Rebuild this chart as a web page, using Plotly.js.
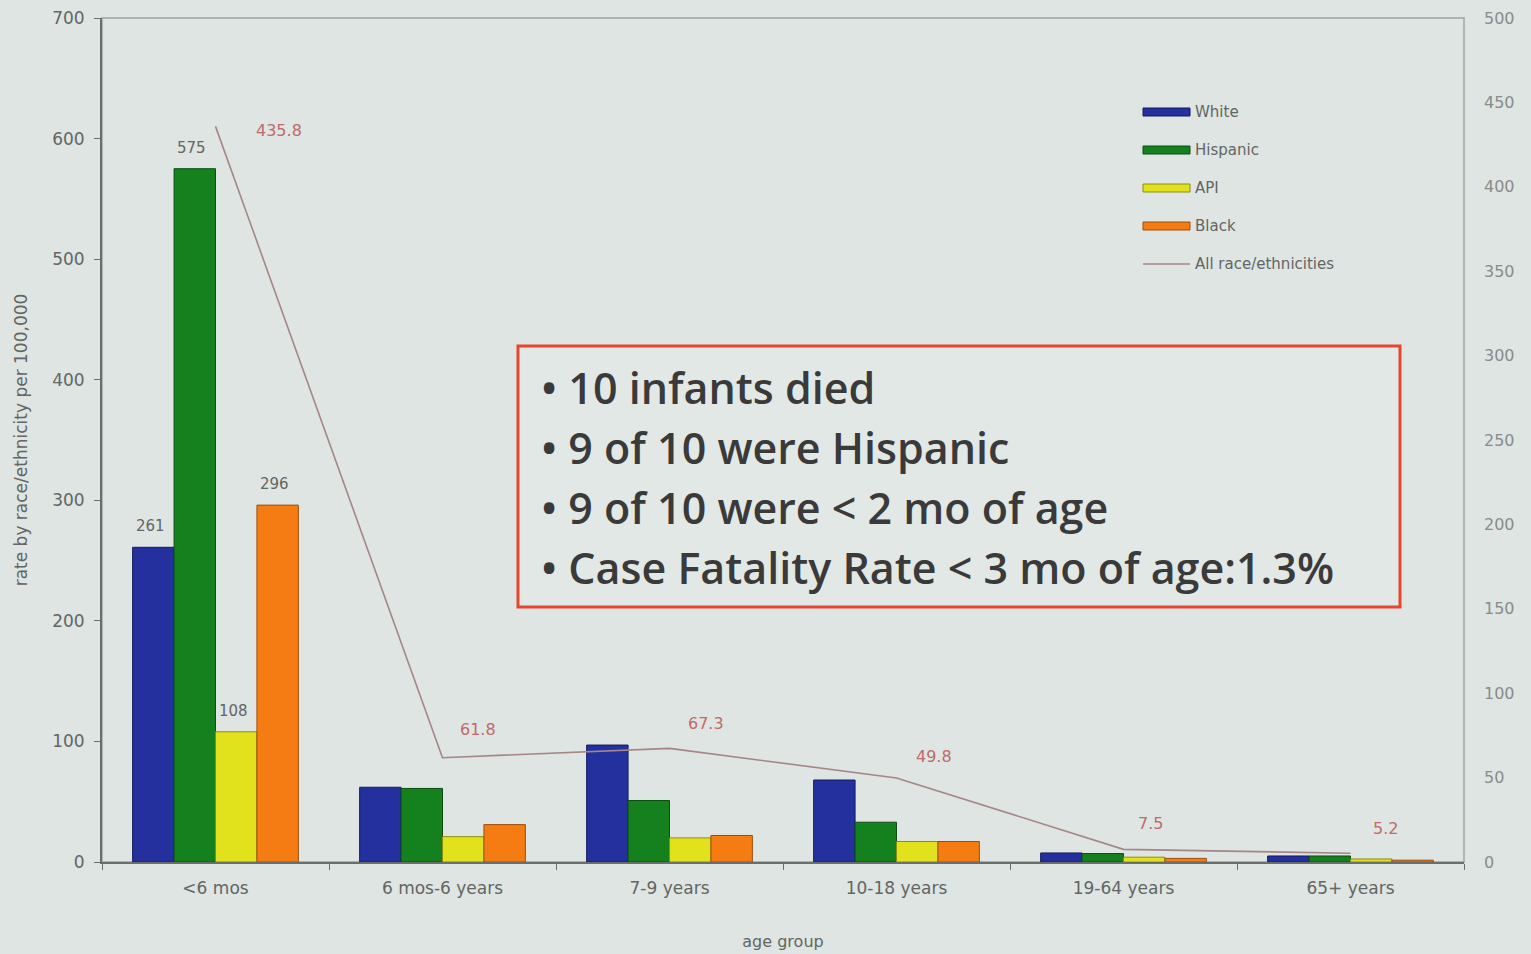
<!DOCTYPE html>
<html>
<head>
<meta charset="utf-8">
<script src="https://cdn.plot.ly/plotly-3.0.1.min.js"></script>
<style>
  html, body { margin: 0; padding: 0; background: #dee5e2; }
  #chart { width: 1531px; height: 954px; }
</style>
</head>
<body>
<div id="chart"></div>
<script>
// Pertussis rates by age group and race/ethnicity (per 100,000)
const ageGroups = ['<6 mos', '6 mos-6 years', '7-9 years', '10-18 years', '19-64 years', '65+ years'];
const white    = [261, 62, 97, 68, 7.5, 5];
const hispanic = [575, 61, 51, 33, 7, 5];
const api      = [108, 21, 20, 17, 4, 2.5];
const black    = [296, 31, 22, 17, 3, 1.5];
const allRaces = [435.8, 61.8, 67.3, 49.8, 7.5, 5.2];

const seriesNames = ['White', 'Hispanic', 'API', 'Black'];
const allRacesName = 'All race/ethnicities';
const labeledGroupIndex = 0;   // only the infant group carries bar value labels

const leftTicks  = [0, 100, 200, 300, 400, 500, 600, 700];
const rightTicks = [0, 50, 100, 150, 200, 250, 300, 350, 400, 450, 500];

const notes = [
  '10 infants died',
  '9 of 10 were Hispanic',
  '9 of 10 were < 2 mo of age',
  'Case Fatality Rate < 3 mo of age:1.3%'
];

// ---- styling ----
const W = 1531, H = 954;
const M = { l: 102, r: 67, t: 18, b: 92 };
const plotW = W - M.l - M.r, plotH = H - M.t - M.b;
const px = x => (x - M.l) / plotW;          // pixel -> paper x
const py = y => (H - M.b - y) / plotH;      // pixel -> paper y

const bg = '#dee5e2';
const sans = 'DejaVu Sans, Liberation Sans, Arial, sans-serif';
const barColors = ['#23309e', '#14801e', '#e2e21c', '#f47c12'];
const barEdges  = ['#141c60', '#0c4e12', '#8c8c10', '#9c4e0c'];
const lineColor = '#a48686';
const lineLabelColor = '#c06a6a';
const axisGray = '#6a6e6c';
const textGray = '#626664';
const bargap = 0.27;
const barPx = plotW / ageGroups.length * (1 - bargap) / seriesNames.length;

const seriesValues = [white, hispanic, api, black];

const traces = seriesValues.map((vals, i) => ({
  type: 'bar',
  name: seriesNames[i],
  x: ageGroups,
  y: vals,
  marker: { color: barColors[i], line: { color: barEdges[i], width: 1 } },
  hoverinfo: 'name+y',
  showlegend: false
}));

traces.push({
  type: 'scatter',
  mode: 'lines',
  name: allRacesName,
  x: ageGroups,
  y: allRaces,
  yaxis: 'y2',
  line: { color: lineColor, width: 1.6 },
  showlegend: false
});

const annotations = [];

// value labels above the infant bars
seriesValues.forEach((vals, i) => {
  annotations.push({
    x: ageGroups[labeledGroupIndex], y: vals[labeledGroupIndex],
    xref: 'x', yref: 'y',
    text: String(vals[labeledGroupIndex]),
    showarrow: false,
    xanchor: 'center', yanchor: 'bottom',
    xshift: (i - (seriesNames.length - 1) / 2) * barPx - 3,
    yshift: 10,
    font: { family: sans, size: 15, color: textGray }
  });
});

// value labels for the all race/ethnicities line
const lineLabelShift = [[63, -4], [35, 28], [36, 25], [37, 21], [27, 26], [35, 25]];
allRaces.forEach((v, i) => {
  annotations.push({
    x: ageGroups[i], y: v, xref: 'x', yref: 'y2',
    text: v.toFixed(1),
    showarrow: false,
    xanchor: 'center', yanchor: 'middle',
    xshift: lineLabelShift[i][0], yshift: lineLabelShift[i][1],
    font: { family: sans, size: 16, color: lineLabelColor }
  });
});

// legend drawn as swatches + labels
const shapes = [];
const legendNames = seriesNames.concat([allRacesName]);
const legendRows = [112, 150, 188, 226, 264];
legendNames.forEach((name, i) => {
  const yc = legendRows[i];
  if (i < seriesNames.length) {
    shapes.push({
      type: 'rect', xref: 'paper', yref: 'paper',
      x0: px(1143), x1: px(1190), y0: py(yc + 4), y1: py(yc - 4),
      fillcolor: barColors[i], line: { color: barEdges[i], width: 1 }
    });
  } else {
    shapes.push({
      type: 'line', xref: 'paper', yref: 'paper',
      x0: px(1143), x1: px(1190), y0: py(yc), y1: py(yc),
      line: { color: lineColor, width: 1.4 }
    });
  }
  annotations.push({
    x: px(1193), y: py(yc), xref: 'paper', yref: 'paper',
    text: name, showarrow: false, xanchor: 'left', yanchor: 'middle',
    font: { family: sans, size: 15, color: textGray }
  });
});

// plot frame (top/right edges lighter)
shapes.push({
  type: 'rect', xref: 'paper', yref: 'paper', x0: 0, x1: 1, y0: 0, y1: 1,
  line: { color: '#9ea4a2', width: 1.5 }, layer: 'below'
});

// note box
shapes.push({
  type: 'rect', xref: 'paper', yref: 'paper',
  x0: px(518), x1: px(1400), y0: py(607), y1: py(346),
  fillcolor: '#e2e8e5', line: { color: '#e8452f', width: 3 }
});
const noteRows = [387, 447, 507, 567];
notes.forEach((t, i) => {
  annotations.push({
    x: px(539), y: py(noteRows[i]), xref: 'paper', yref: 'paper',
    text: '\u2022 ' + t, showarrow: false, xanchor: 'left', yanchor: 'middle',
    font: { family: 'Open Sans, Lato, sans-serif', size: 43, color: '#3a3a3a', weight: 600 }
  });
});

const layout = {
  width: W, height: H,
  margin: M,
  paper_bgcolor: bg,
  plot_bgcolor: bg,
  barmode: 'group',
  bargap: bargap,
  bargroupgap: 0,
  showlegend: false,
  font: { family: sans, color: textGray },
  xaxis: {
    type: 'category',
    showgrid: false,
    showline: true, linecolor: axisGray, linewidth: 2,
    ticks: 'outside', tickson: 'boundaries', ticklen: 6, tickcolor: axisGray,
    tickfont: { size: 17, color: textGray },
    ticklabelstandoff: 10,
    title: { text: 'age group', font: { size: 16, color: textGray }, standoff: 38 },
    zeroline: false
  },
  yaxis: {
    range: [0, 700],
    tickvals: leftTicks,
    showgrid: false,
    showline: true, linecolor: axisGray, linewidth: 2,
    ticks: 'outside', ticklen: 6, tickcolor: axisGray,
    tickfont: { size: 17, color: textGray },
    ticklabelstandoff: 6,
    title: { text: 'rate by race/ethnicity per 100,000', font: { size: 17, color: textGray }, standoff: 20 },
    zeroline: false
  },
  yaxis2: {
    range: [0, 500],
    tickvals: rightTicks,
    overlaying: 'y',
    side: 'right',
    showgrid: false,
    showline: false,
    ticks: '',
    tickfont: { size: 16, color: '#888c8a' },
    ticklabelstandoff: 19,
    zeroline: false
  },
  shapes: shapes,
  annotations: annotations
};

Plotly.newPlot('chart', traces, layout, { displayModeBar: false, staticPlot: true });
</script>
</body>
</html>
